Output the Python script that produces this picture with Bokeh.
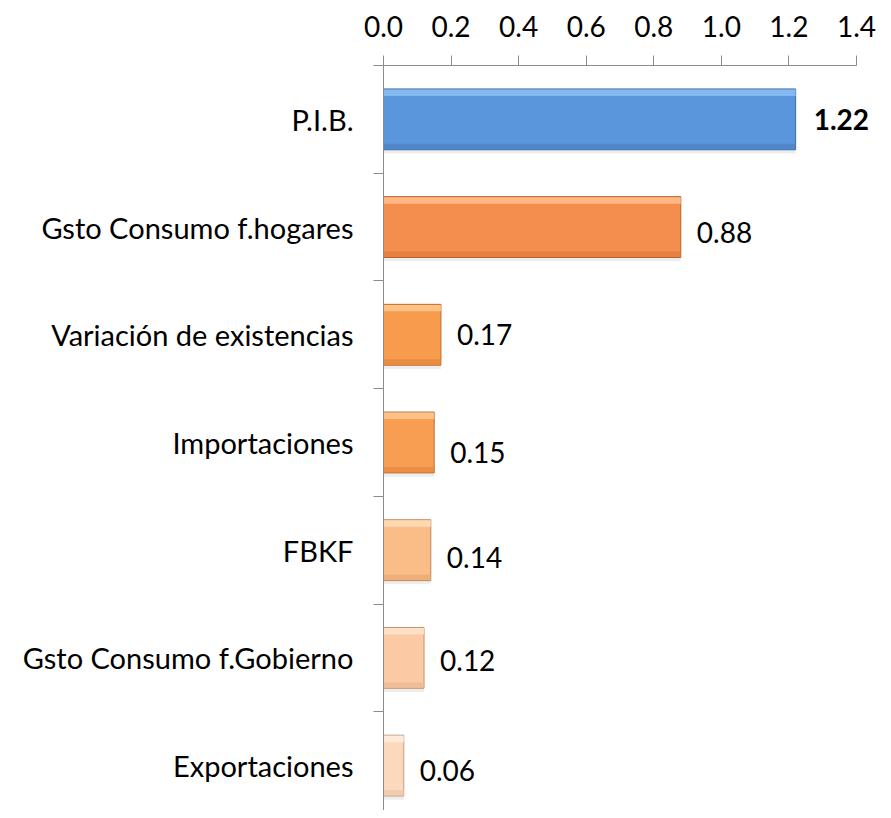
from bokeh.plotting import figure
from bokeh.models import Range1d, FixedTicker, ColumnDataSource, NumeralTickFormatter, LabelSet
from bokeh.core.properties import value
from bokeh.embed import file_html
from bokeh.resources import INLINE

# ---- data ----
categories = ["P.I.B.", "Gsto Consumo f.hogares", "Variación de existencias",
              "Importaciones", "FBKF", "Gsto Consumo f.Gobierno", "Exportaciones"]
values = [1.22, 0.88, 0.17, 0.15, 0.14, 0.12, 0.06]
value_labels = ["1.22", "0.88", "0.17", "0.15", "0.14", "0.12", "0.06"]
x_ticks = [0.0, 0.2, 0.4, 0.6, 0.8, 1.0, 1.2, 1.4]

# ---- styles ----
fills = ["#5A96DC", "#F38E4D", "#F89B4C", "#F89E52", "#FABD87", "#FBCAA4", "#FCD8BD"]
lines = ["#3F6FA8", "#B8612D", "#BE6C2C", "#BE6C2C", "#C08A5A", "#C09470", "#C49E85"]
tops = ["#8CC0F2", "#FDBE8C", "#FEC890", "#FEC890", "#FEDDB8", "#FEE4CC", "#FEEDE0"]
bottoms = ["#4A80C0", "#DE7A3C", "#E2873C", "#E2873C", "#E8A872", "#E8B893", "#EAC6AC"]
label_dy = [0, -5, 0, -10, -7, -3, -5]   # screen offset (negative = lower)
FONT = "Lato"

n = len(categories)
yc = [i + 0.5 for i in range(n)]
bar_h = 0.565

src = ColumnDataSource(dict(y=yc, v=values, fill=fills, line=lines, top=tops, bot=bottoms,
                            ytop=[c - bar_h / 2 + 0.035 for c in yc],
                            ybot=[c + bar_h / 2 - 0.03 for c in yc],
                            yshadow=[c + 0.035 for c in yc]))

p = figure(width=883, height=810, output_backend="svg", toolbar_location=None,
           x_range=Range1d(0, 1.48), y_range=Range1d(6.917, 0),
           x_axis_location="above", min_border_left=383, min_border_right=0,
           min_border_top=65, min_border_bottom=0)
p.outline_line_color = None
p.xgrid.visible = False
p.ygrid.visible = False
p.background_fill_color = "white"
p.border_fill_color = "white"

# shadow
p.hbar(y="yshadow", left=0, right="v", height=bar_h, source=src,
       fill_color="#000000", fill_alpha=0.07, line_color=None)
# bars
p.hbar(y="y", left=0, right="v", height=bar_h, source=src,
       fill_color="fill", line_color="line", line_width=1)
# bevel highlight / shade
p.hbar(y="ytop", left=0, right="v", height=0.06, source=src,
       fill_color="top", fill_alpha=0.85, line_color=None)
p.hbar(y="ybot", left=0, right="v", height=0.05, source=src,
       fill_color="bot", fill_alpha=0.7, line_color=None)

first = ColumnDataSource(dict(x=values[:1], y=yc[:1], lab=value_labels[:1], dy=label_dy[:1]))
rest = ColumnDataSource(dict(x=values[1:], y=yc[1:], lab=value_labels[1:], dy=label_dy[1:]))
p.add_layout(LabelSet(x="x", y="y", text="lab", source=first, x_offset=18, y_offset="dy",
                      text_baseline="middle", text_align="left", text_font=value(FONT),
                      text_font_size="28px", text_color="#000000", text_font_style="bold"))
p.add_layout(LabelSet(x="x", y="y", text="lab", source=rest, x_offset=16, y_offset="dy",
                      text_baseline="middle", text_align="left", text_font=value(FONT),
                      text_font_size="28px", text_color="#000000"))

# x axis (top)
xa = p.xaxis[0]
xa.bounds = (0, 1.4)
xa.ticker = FixedTicker(ticks=x_ticks)
xa.formatter = NumeralTickFormatter(format="0.0")
xa.major_tick_in = 0
xa.major_tick_out = 10
xa.minor_tick_out = 0
xa.minor_tick_in = 0
xa.axis_line_color = "#8C8C8C"
xa.major_tick_line_color = "#8C8C8C"
xa.major_label_text_font = FONT
xa.major_label_text_font_size = "28px"
xa.major_label_text_color = "#000000"
xa.major_label_standoff = 19

# y axis (left): labels at centers, ticks at boundaries
ya = p.yaxis[0]
ya.ticker = FixedTicker(ticks=yc, minor_ticks=list(range(n + 1)))
ya.major_label_overrides = {c: name for c, name in zip(yc, categories)}
ya.major_tick_in = 0
ya.major_tick_out = 0
ya.minor_tick_in = 0
ya.minor_tick_out = 10
ya.axis_line_color = "#8C8C8C"
ya.minor_tick_line_color = "#8C8C8C"
ya.major_label_text_font = FONT
ya.major_label_text_font_size = "29px"
ya.major_label_text_color = "#000000"
ya.major_label_standoff = 20

open("out.html", "w").write(file_html(p, INLINE))
